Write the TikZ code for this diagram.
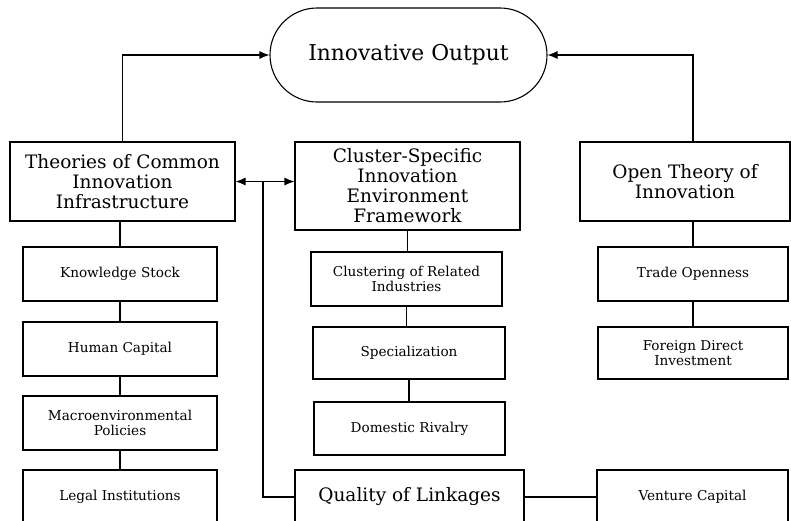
\documentclass[tikz,border=0pt]{standalone}
\usepackage{fontspec}
\setmainfont{DejaVu Serif}
\usetikzlibrary{arrows.meta}

\begin{document}
\begin{tikzpicture}[x=1pt, y=-1pt, line width=1.1pt,
    mainbox/.style={draw, align=center, font=\fontsize{18.5}{20}\selectfont},
    subbox/.style={draw, align=center, minimum width=194pt, minimum height=54pt, font=\fontsize{13.6}{15}\selectfont},
    tip/.style={-{Latex[length=10pt,width=8pt]}}]
    \useasboundingbox (0,0) rectangle (791,520);
    \clip (0,0) rectangle (791,520);

    \node[draw, rounded corners=47pt, minimum width=277pt, minimum height=94pt,
          font=\fontsize{21.8}{24}\selectfont] (output) at (408.5,55) {Innovative Output};

    \node[mainbox, minimum width=225pt, minimum height=79pt] (common) at (122.5,181.5) {Theories of Common\\Innovation\\Infrastructure};
    \node[mainbox, minimum width=225pt, minimum height=88pt] (cluster) at (407.5,186) {Cluster-Specific\\Innovation\\Environment\\Framework};
    \node[mainbox, minimum width=210pt, minimum height=79pt] (open) at (685,181.5) {Open Theory of\\Innovation};

    % left column
    \node[subbox] (knowledge) at (120,274) {Knowledge Stock};
    \node[subbox] (human) at (120,349) {Human Capital};
    \node[subbox] (macro) at (120,423) {Macroenvironmental\\Policies};
    \node[subbox] (legal) at (120,497) {Legal Institutions};

    % middle column
    \node[subbox, minimum width=191pt] (clustering) at (406.5,279) {Clustering of Related\\Industries};
    \node[subbox, minimum width=192pt, minimum height=52pt] (special) at (409,353) {Specialization};
    \node[subbox, minimum width=191pt, minimum height=53pt] (rivalry) at (409.5,428.5) {Domestic Rivalry};
    \node[mainbox, minimum width=229pt, minimum height=54pt] (linkage) at (409.5,497) {Quality of Linkages};

    % right column
    \node[subbox, minimum width=190pt] (trade) at (693,274) {Trade Openness};
    \node[subbox, minimum width=190pt, minimum height=52pt] (fdi) at (693,353) {Foreign Direct\\Investment};
    \node[subbox, minimum width=191pt] (venture) at (692.5,497) {Venture Capital};

    \draw[tip] (common.north) |- (output.west);
    \draw[tip] (trade.north |- open.north) |- (output.east);

    \draw[{Latex[length=10pt,width=8pt]}-{Latex[length=10pt,width=8pt]}] (common.east) -- (cluster.west |- common.east);
    \coordinate (split) at (263,181.5);
    \draw (split) |- (linkage.west);

    \draw (knowledge.north) -- (knowledge.north |- common.south);
    \foreach \a/\b in {knowledge/human, human/macro, macro/legal}
        \draw (\b.north |- \a.south) -- (\b.north);

    \draw (clustering.north -| cluster.south) -- (cluster.south);
    \draw (clustering.south) -- (clustering.south |- special.north);
    \draw (special.south) -- (special.south |- rivalry.north);

    \draw (trade.north) -- (trade.north |- open.south);
    \draw (trade.south) -- (fdi.north);
    \draw (linkage.east) -- (venture.west);
\end{tikzpicture}
\end{document}
